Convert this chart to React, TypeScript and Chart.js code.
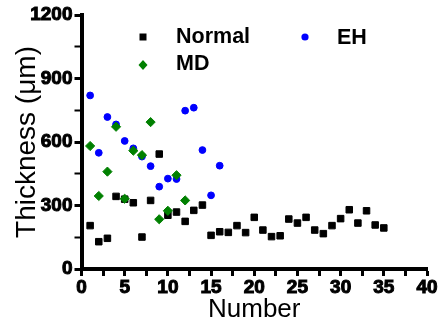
import React, { useEffect, useRef } from 'react';
import { Chart, registerables } from 'chart.js';

Chart.register(...registerables);

// ---- Data ----
const seriesNames = ['Normal', 'EH', 'MD'];

const normalX = [1, 2, 3, 4, 5, 6, 7, 8, 9, 10, 11, 12, 13, 14, 15, 16, 17, 18, 19, 20, 21, 22, 23, 24, 25, 26, 27, 28, 29, 30, 31, 32, 33, 34, 35];
const normalY = [205, 129, 145, 343, 330, 313, 151, 324, 543, 254, 269, 225, 277, 302, 159, 176, 173, 205, 172, 244, 184, 153, 157, 236, 217, 244, 184, 167, 205, 238, 280, 217, 275, 208, 194];

const ehX = [1, 2, 3, 4, 5, 6, 7, 8, 9, 10, 11, 12, 13, 14, 15, 16];
const ehY = [820, 549, 718, 683, 605, 570, 531, 486, 389, 427, 425, 748, 762, 562, 348, 488];

const mdX = [1, 2, 3, 4, 5, 6, 7, 8, 9, 10, 11, 12];
const mdY = [581, 345, 460, 672, 332, 559, 538, 694, 235, 275, 443, 324];

const xMajorTicks = [0, 5, 10, 15, 20, 25, 30, 35, 40];
const yMajorTicks = [0, 300, 600, 900, 1200];

const xTitle = 'Number';
const yTitle = 'Thickness (\u03bcm)';

const FONT = "'Liberation Sans', Arial, sans-serif";

const toPoints = (xs: number[], ys: number[]) => xs.map((x, i) => ({ x, y: ys[i] }));

const legendPlugin = {
  id: 'customLegend',
  afterDraw(chart: any) {
    const ctx = chart.ctx as CanvasRenderingContext2D;
    const items = [
      { ds: 0, mx: 143, my: 37, tx: 176, ty: 37.5 },
      { ds: 1, mx: 305, my: 37, tx: 337, ty: 38 },
      { ds: 2, mx: 143, my: 65, tx: 176, ty: 64.5 },
    ];
    ctx.save();
    for (const it of items) {
      const ds = chart.data.datasets[it.ds];
      ctx.fillStyle = ds.backgroundColor;
      ctx.beginPath();
      if (ds.pointStyle === 'rect') {
        ctx.rect(it.mx - 3.5, it.my - 3.5, 7, 7);
      } else if (ds.pointStyle === 'rectRot') {
        ctx.moveTo(it.mx - 4.5, it.my);
        ctx.lineTo(it.mx, it.my - 5);
        ctx.lineTo(it.mx + 4.5, it.my);
        ctx.lineTo(it.mx, it.my + 5);
        ctx.closePath();
      } else {
        ctx.arc(it.mx, it.my, 3.6, 0, Math.PI * 2);
      }
      ctx.fill();
      ctx.fillStyle = '#000';
      ctx.font = `bold 21.5px ${FONT}`;
      ctx.textAlign = 'left';
      ctx.textBaseline = 'middle';
      ctx.fillText(seriesNames[it.ds], it.tx, it.ty);
    }
    ctx.restore();
  },
};

export default function App() {
  const ref = useRef<HTMLCanvasElement | null>(null);

  useEffect(() => {
    if (!ref.current) return;
    const chart = new Chart(ref.current, {
      type: 'scatter',
      data: {
        datasets: [
          {
            label: seriesNames[0],
            data: toPoints(normalX, normalY),
            pointStyle: 'rect',
            pointRadius: 4.6,
            borderWidth: 1,
            backgroundColor: '#000000',
            borderColor: '#000000',
            order: 2,
          },
          {
            label: seriesNames[1],
            data: toPoints(ehX, ehY),
            pointStyle: 'circle',
            pointRadius: 3.4,
            borderWidth: 1,
            backgroundColor: '#0000ff',
            borderColor: '#0000ff',
            order: 1,
          },
          {
            label: seriesNames[2],
            data: toPoints(mdX, mdY),
            pointStyle: 'rectRot',
            pointRadius: 4.6,
            borderWidth: 1,
            backgroundColor: '#008000',
            borderColor: '#008000',
            order: 0,
          },
        ] as any,
      },
      options: {
        responsive: false,
        animation: false,
        layout: { padding: { top: 15, right: 11, left: 0, bottom: 0 } },
        plugins: {
          legend: { display: false },
          tooltip: { enabled: false },
        },
        scales: {
          x: {
            type: 'linear',
            min: 0,
            max: 40,
            afterFit: (scale: any) => {
              scale.height = 56;
            },
            ticks: {
              stepSize: 2.5,
              autoSkip: false,
              maxRotation: 0,
              padding: 0,
              color: '#000',
              font: { family: FONT, size: 19, weight: 'bold' },
              textStrokeColor: '#000',
              textStrokeWidth: 1,
              callback: (v: any) => (xMajorTicks.includes(Number(v)) ? String(v) : ''),
            },
            grid: {
              drawOnChartArea: false,
              drawTicks: true,
              tickLength: 7,
              tickColor: '#000',
              tickWidth: 3,
            },
            border: { display: true, color: '#000', width: 4 },
            title: {
              display: true,
              text: xTitle,
              color: '#000',
              font: { family: FONT, size: 26, weight: 'normal' },
              padding: { top: 0, bottom: 0 },
            },
          },
          y: {
            type: 'linear',
            min: 0,
            max: 1200,
            afterFit: (scale: any) => {
              scale.width = 81.5;
            },
            ticks: {
              stepSize: 150,
              autoSkip: false,
              padding: 2,
              color: '#000',
              font: { family: FONT, size: 19, weight: 'bold' },
              textStrokeColor: '#000',
              textStrokeWidth: 1,
              callback: (v: any) => (yMajorTicks.includes(Number(v)) ? String(v) : ''),
            },
            grid: {
              drawOnChartArea: false,
              drawTicks: true,
              tickLength: 7,
              tickColor: '#000',
              tickWidth: (c: any) => (c.tick && yMajorTicks.includes(c.tick.value) ? 3 : 2),
            },
            border: { display: true, color: '#000', width: 4 },
            title: {
              display: true,
              text: yTitle,
              color: '#000',
              font: { family: FONT, size: 28, weight: 'normal' },
              padding: { top: 10, bottom: 0 },
            },
          },
        },
      } as any,
      plugins: [legendPlugin],
    });
    return () => chart.destroy();
  }, []);

  return (
    <div style={{ position: 'fixed', left: 0, top: 0, width: 438, height: 325, background: '#fff' }}>
      <canvas ref={ref} width={438} height={325} />
    </div>
  );
}
